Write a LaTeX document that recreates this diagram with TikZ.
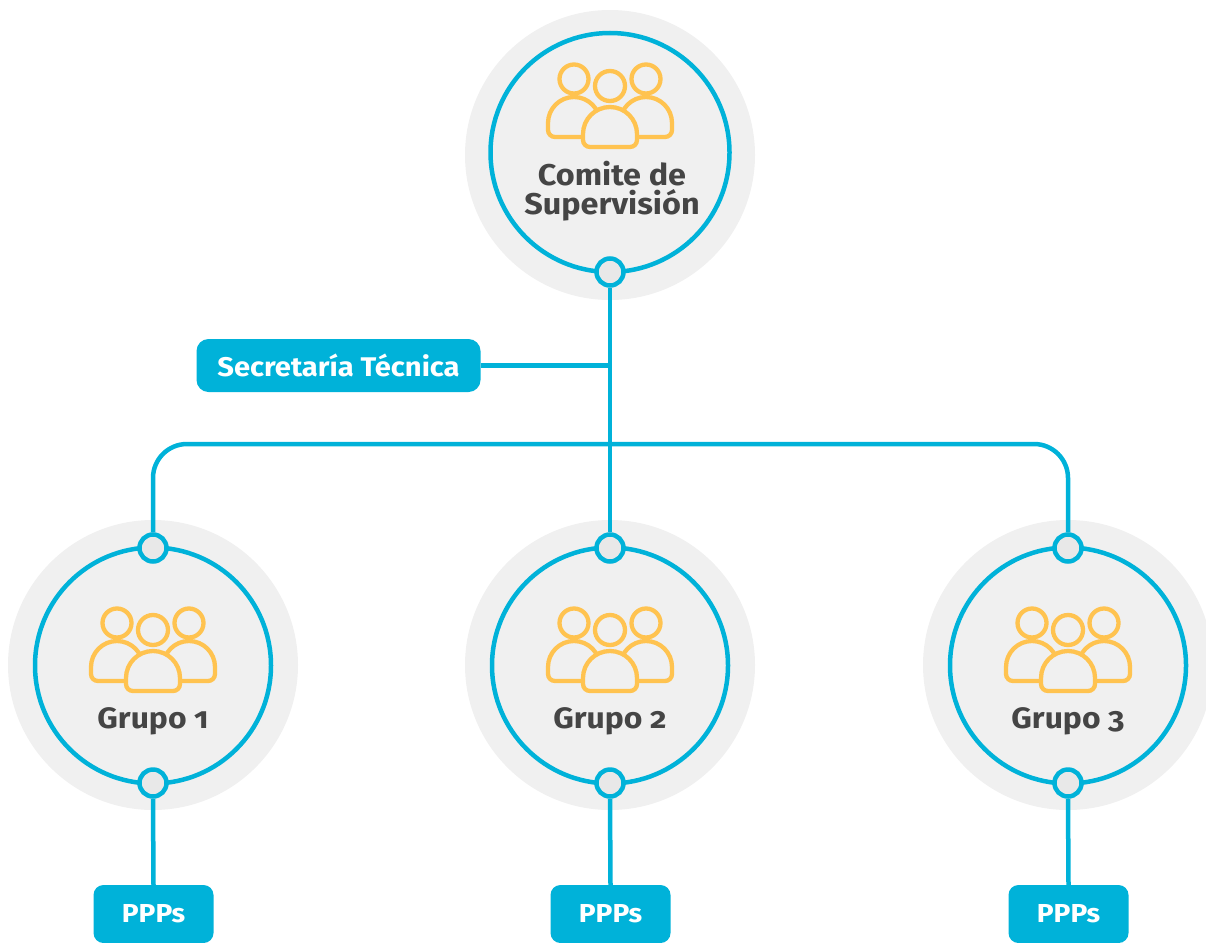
\documentclass[tikz,border=0pt]{standalone}
\usepackage{fontspec}
\setmainfont{Fira Sans}[Numbers=OldStyle, FakeStretch=1.08]
\definecolor{cblue}{RGB}{0,178,217}
\definecolor{cdisk}{RGB}{240,240,240}
\definecolor{cdot}{RGB}{232,232,232}
\definecolor{ctext}{RGB}{69,69,69}
\definecolor{cicon}{RGB}{255,195,80}
\tikzset{
  disk/.style={fill=cdisk},
  ring/.style={draw=cblue, line width=4.5pt},
  conn/.style={draw=cblue, line width=4.5pt},
  dot/.style={circle, minimum size=27pt, inner sep=0pt, draw=cblue, line width=4.5pt, fill=cdot},
  bluebox/.style={rectangle, rounded corners=12pt, fill=cblue, text=white, font=\bfseries, inner sep=0pt},
  lbl/.style={text=ctext, font=\bfseries, anchor=base, inner sep=0pt},
  people/.pic={
    \begin{scope}[draw=cicon, line width=4.3pt, fill=cdisk]
      \foreach \s in {-1,1}{
        \filldraw (\s*36-26,37) arc[start angle=180,end angle=360,x radius=26,y radius=26]
          -- (\s*36+26,44) arc[start angle=0,end angle=90,radius=7]
          -- (\s*36-19,51) arc[start angle=90,end angle=180,radius=7] -- cycle;
        \filldraw (\s*36,-7) circle[radius=14.5];
      }
      \filldraw (0,0) circle[radius=15];
      \filldraw (-27,48) arc[start angle=180,end angle=360,x radius=27,y radius=27]
          -- (27,54) arc[start angle=0,end angle=90,radius=7]
          -- (-20,61) arc[start angle=90,end angle=180,radius=7] -- cycle;
    \end{scope}
  }
}
\begin{document}
\begin{tikzpicture}[x=1pt,y=-1pt]
\useasboundingbox (0,0) rectangle (1206,942);
% gray disks
\fill[disk] (610,155) circle[radius=145];
\fill[disk] (153,665) circle[radius=145];
\fill[disk] (610,665) circle[radius=145];
\fill[disk] (1068,665) circle[radius=145];
% rings
\draw[ring] (610,152.5) circle[radius=119.5];
\draw[ring] (153,665.5) circle[radius=118];
\draw[ring] (610,665.5) circle[radius=118];
\draw[ring] (1068,665.5) circle[radius=118];
% icons
\pic at (610,86) {people};
\pic at (153,630) {people};
\pic at (610,630) {people};
\pic at (1068,630) {people};
% labels
\node[lbl, font=\bfseries\fontsize{30}{34}\selectfont] (t1) at (612,185) {Comite de};
\node[lbl, font=\bfseries\fontsize{30}{34}\selectfont] (t2) at (612,214) {Supervisión};
\node[lbl, font=\bfseries\fontsize{29.5}{34}\selectfont] (l1) at (153,728) {Grupo 1};
\node[lbl, font=\bfseries\fontsize{29.5}{34}\selectfont] (l2) at (610,728) {Grupo 2};
\node[lbl, font=\bfseries\fontsize{29.5}{34}\selectfont] (l3) at (1068,728) {Grupo 3};
% boxes
\node[bluebox, minimum width=284pt, minimum height=53pt, font=\bfseries\fontsize{27}{30}\selectfont] (sec) at (338.5,365.5) {Secretaría Técnica};
\node[bluebox, minimum width=120pt, minimum height=58pt, rounded corners=10pt, font=\bfseries\fontsize{26}{30}\selectfont] (p1) at (153.5,914) {PPPs};
\node[bluebox, minimum width=120pt, minimum height=58pt, rounded corners=10pt, font=\bfseries\fontsize{26}{30}\selectfont] (p2) at (610.5,914) {PPPs};
\node[bluebox, minimum width=120pt, minimum height=58pt, rounded corners=10pt, font=\bfseries\fontsize{26}{30}\selectfont] (p3) at (1068.5,914) {PPPs};
% connector dots
\node[dot] (c0b) at (610,272) {};
\node[dot] (g1t) at (153,548) {};
\node[dot] (g1b) at (153,783) {};
\node[dot] (g2t) at (610,548) {};
\node[dot] (g2b) at (610,783) {};
\node[dot] (g3t) at (1068,548) {};
\node[dot] (g3b) at (1068,783) {};
\coordinate (bus) at (610,444);
% connectors
\draw[conn] (c0b.south) -- (g2t.north);
\draw[conn] (sec.east) -- (sec.east -| c0b.south);
\draw[conn, rounded corners=34pt] (g1t.north) -- (g1t.north |- bus) -- (g3t.north |- bus) -- (g3t.north);
\draw[conn] (g1b.south) -- (p1.north);
\draw[conn] (g2b.south) -- (p2.north);
\draw[conn] (g3b.south) -- (p3.north);
\end{tikzpicture}
\end{document}
